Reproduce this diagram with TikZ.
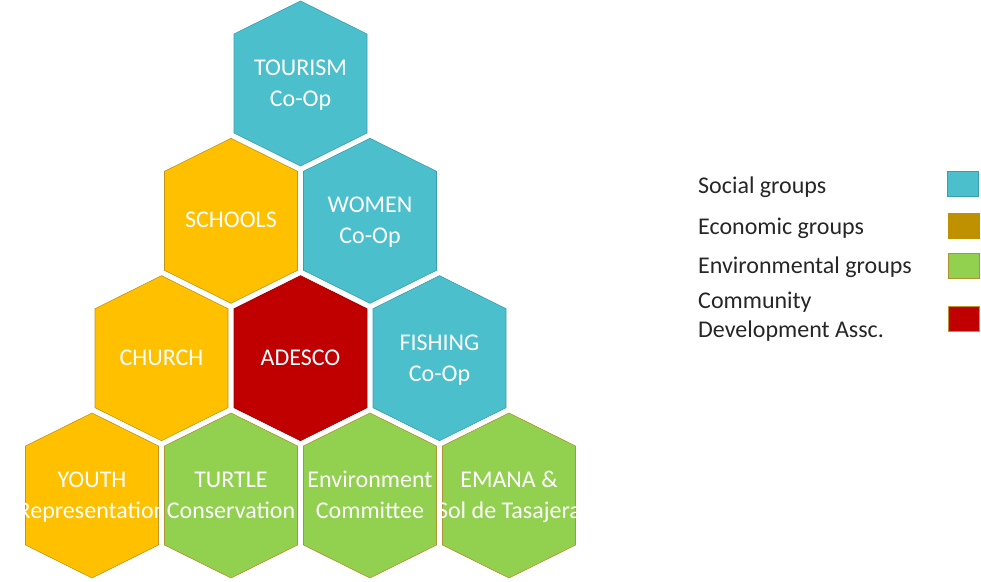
\documentclass[tikz,border=0pt]{standalone}
\usepackage{fontspec}
\setmainfont{Carlito}
\definecolor{socfill}{HTML}{4BBFCC}
\definecolor{socline}{HTML}{3A9FAD}
\definecolor{ecofill}{HTML}{FFC000}
\definecolor{ecoline}{HTML}{C0961E}
\definecolor{envfill}{HTML}{92D050}
\definecolor{envline}{HTML}{B0922E}
\definecolor{cdafill}{HTML}{C00000}
\definecolor{cdaline}{HTML}{A00000}
\definecolor{ecokey}{HTML}{BF9000}
\definecolor{legendtext}{HTML}{262626}
\newcommand\hexcell[6]{%
  \path[#3] (#1-66.5,#2-49.5) -- (#1,#2-82.5) -- (#1+66.5,#2-49.5) -- (#1+66.5,#2+49.5) -- (#1,#2+82.5) -- (#1-66.5,#2+49.5) -- cycle;
  \node[hextext] (#4) at (#1,#2+#5) {#6};%
}
\begin{document}
\begin{tikzpicture}[x=1pt,y=-1pt,
  hexsoc/.style={fill=socfill,draw=socline,line width=0.6pt},
  hexeco/.style={fill=ecofill,draw=ecoline,line width=0.6pt},
  hexenv/.style={fill=envfill,draw=envline,line width=0.6pt},
  hexcda/.style={fill=cdafill,draw=cdaline,line width=0.6pt},
  hextext/.style={text=white,font=\fontsize{24}{31}\selectfont,align=center,inner sep=0pt,anchor=base},
  legtext/.style={text=legendtext,font=\fontsize{24}{29}\selectfont,align=left,inner sep=0pt,anchor=base west},
  legbox/.style={line width=0.8pt,minimum width=31pt,minimum height=25pt,inner sep=0pt,anchor=north west}]
\useasboundingbox (0,0) rectangle (981,581);
% row 1
\hexcell{300.5}{83.5}{hexsoc}{tourism}{23}{TOURISM\\Co-Op}
% row 2
\hexcell{231}{220.8}{hexeco}{schools}{7}{SCHOOLS}
\hexcell{370}{220.8}{hexsoc}{women}{23}{WOMEN\\Co-Op}
% row 3
\hexcell{161.5}{358.2}{hexeco}{church}{7}{CHURCH}
\hexcell{300.5}{358.2}{hexcda}{adesco}{7}{ADESCO}
\hexcell{439.5}{358.2}{hexsoc}{fishing}{23}{FISHING\\Co-Op}
% row 4
\hexcell{92}{495.5}{hexeco}{youth}{23}{YOUTH\\Representation}
\hexcell{231}{495.5}{hexenv}{turtle}{23}{TURTLE\\Conservation}
\hexcell{370}{495.5}{hexenv}{envcom}{23}{Environment\\Committee}
\hexcell{509}{495.5}{hexenv}{emana}{23}{EMANA \&\\Sol de Tasajera}
% legend
\node[legtext] (lsoc) at (698,193) {Social groups};
\node[legtext] (leco) at (698,234) {Economic groups};
\node[legtext] (lenv) at (698,273) {Environmental groups};
\node[legtext] (lcda) at (698,337) {Community\\Development Assc.};
\node[legbox,fill=socfill,draw=socline] (ksoc) at (946.5,171) {};
\node[legbox,fill=ecokey,draw=ecokey] (keco) at (947.5,212.5) {};
\node[legbox,fill=envfill,draw=envline] (kenv) at (948,253) {};
\node[legbox,fill=cdafill,draw=ecoline] (kcda) at (948,306) {};
\end{tikzpicture}
\end{document}
